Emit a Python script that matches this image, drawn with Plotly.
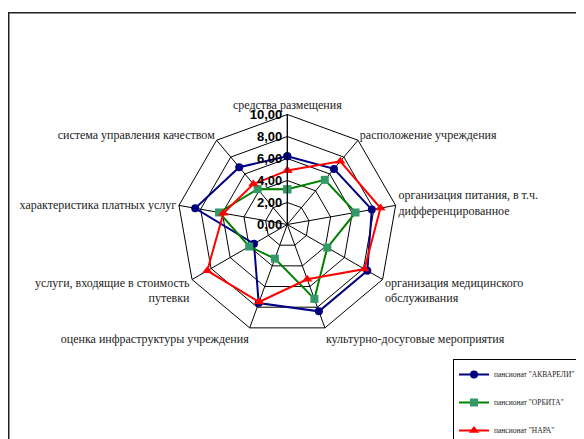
import plotly.graph_objects as go

categories = [
    "средства размещения",
    "расположение учреждения",
    "организация питания, в т.ч.<br>дифференцированное",
    "организация медицинского<br>обслуживания",
    "культурно-досуговые мероприятия",
    "оценка инфраструктуры учреждения",
    "услуги, входящие в стоимость<br>путевки",
    "характеристика платных услуг",
    "система управления качеством",
]

akvareli = [6.2, 6.6, 7.8, 8.4, 8.4, 7.6, 3.5, 8.5, 6.8]
orbita = [3.2, 5.3, 6.3, 4.2, 7.2, 3.3, 4.0, 6.3, 4.2]
nara = [4.9, 7.5, 8.6, 8.1, 5.3, 7.5, 8.4, 5.9, 4.8]

series_names = ['пансионат "АКВАРЕЛИ"', 'пансионат "ОРБИТА"', 'пансионат "НАРА"']
radial_ticks = [0, 2, 4, 6, 8, 10]

W, H = 584, 439
OFF = 8  # page body margin: figure pixel = screen pixel - OFF
cx, cy, R = 287.3 - OFF, 224.5 - OFF, 110


def px(x):
    return x / W


def py(y):
    return 1 - y / H


fig = go.Figure()

styles = [
    dict(line=dict(color="#000080", width=2), marker=dict(symbol="circle", size=8, color="#000080")),
    dict(line=dict(color="#008000", width=2), marker=dict(symbol="square", size=8, color="#339966")),
    dict(line=dict(color="#FF0000", width=2), marker=dict(symbol="triangle-up", size=9, color="#FF0000")),
]

for i, (name, vals) in enumerate(zip(series_names, [akvareli, orbita, nara])):
    fig.add_trace(go.Scatterpolar(
        r=vals + vals[:1],
        theta=categories + categories[:1],
        mode="lines+markers",
        name=name,
        legendgroup=f"g{i}",
        **styles[i],
    ))

fig.update_layout(
    width=W, height=H,
    margin=dict(l=0, r=0, t=0, b=0),
    paper_bgcolor="white",
    plot_bgcolor="white",
    separators=", ",
    font=dict(family="Liberation Serif", color="#222222"),
    polar=dict(
        domain=dict(x=[px(cx - R), px(cx + R)], y=[py(cy + R), py(cy - R)]),
        bgcolor="white",
        gridshape="linear",
        angularaxis=dict(
            direction="clockwise",
            rotation=90,
            showline=True,
            linecolor="black",
            linewidth=1,
            gridcolor="black",
            gridwidth=1,
            ticks="",
            tickfont=dict(family="Liberation Serif", size=12, color="#222222"),
        ),
        radialaxis=dict(
            range=[0, 10],
            tickvals=radial_ticks,
            tickformat=".2f",
            angle=90,
            tickangle=90,
            side="counterclockwise",
            showline=True,
            linecolor="black",
            linewidth=1,
            gridcolor="black",
            gridwidth=1,
            ticks="",
            tickfont=dict(family="Arial", size=13, color="black", weight="bold"),
        ),
    ),
    legend=dict(
        x=px(581 - OFF), y=py(359 - OFF), xanchor="right", yanchor="top",
        bordercolor="black", borderwidth=1, bgcolor="white",
        font=dict(family="Liberation Serif", size=7.5, color="#222222"),
        itemwidth=30,
        tracegroupgap=9,
    ),
    shapes=[dict(
        type="rect", xref="paper", yref="paper",
        x0=px(8.75 - OFF), x1=1.02, y0=-0.02, y1=py(12.75 - OFF),
        line=dict(color="#222222", width=1.5),
    )],
)

fig.write_html("out.html")
